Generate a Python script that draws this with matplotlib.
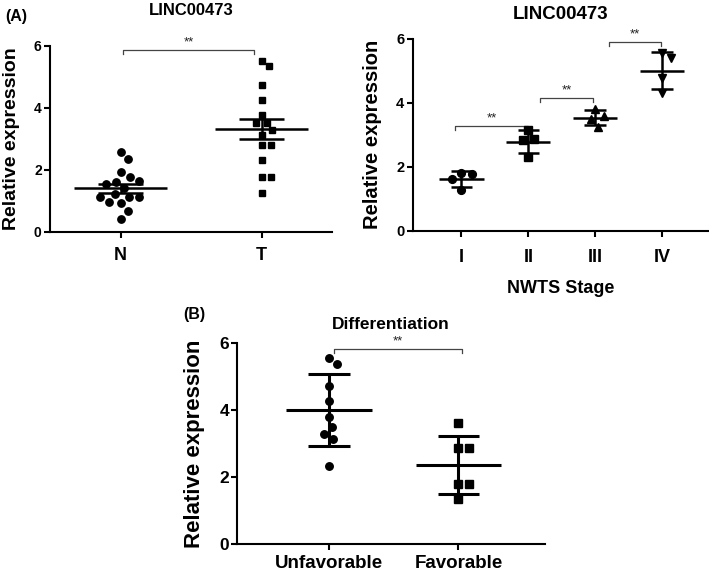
import numpy as np
import matplotlib
matplotlib.use("Agg")
import matplotlib.pyplot as plt

plt.rcParams['font.family'] = ['Liberation Sans', 'DejaVu Sans']
plt.rcParams['font.weight'] = 'bold'

# panel A left: tumour vs normal
nt_labels = ["N", "T"]
n_vals = [2.58, 2.34, 1.91, 1.78, 1.61, 1.54, 1.65, 1.40, 1.22, 1.11, 0.97, 0.92, 1.11, 1.13, 0.68, 0.40]
t_vals = [5.52, 5.35, 4.73, 4.25, 3.77, 3.52, 3.52, 3.28, 3.12, 2.80, 2.80, 2.31, 1.76, 1.76, 1.26]

# panel A right: NWTS stage
stage_labels = ["I", "II", "III", "IV"]
stage_vals = [
    [1.81, 1.79, 1.62, 1.28],
    [3.15, 2.86, 2.84, 2.32],
    [3.80, 3.59, 3.49, 3.25],
    [5.56, 5.39, 4.76, 4.30],
]

# panel B: differentiation
diff_labels = ["Unfavorable", "Favorable"]
unfav_vals = [5.57, 5.37, 4.73, 4.28, 3.79, 3.49, 3.29, 3.14, 2.33]
fav_vals = [3.61, 2.86, 2.86, 1.79, 1.79, 1.34]

W, H = 709, 573
fig = plt.figure(figsize=(W / 100, H / 100), dpi=100)


def px_axes(l, r, b, t):
    return fig.add_axes([l / W, 1 - b / H, (r - l) / W, (b - t) / H])


def style(ax, xlim, ytick_size, xpad):
    ax.set_xlim(*xlim)
    ax.set_ylim(0, 6)
    ax.set_yticks([0, 2, 4, 6])
    for s in ["top", "right"]:
        ax.spines[s].set_visible(False)
    for s in ["left", "bottom"]:
        ax.spines[s].set_linewidth(1.5)
    ax.tick_params(axis="both", direction="out", length=4, width=1.5)
    ax.tick_params(axis="y", labelsize=ytick_size, pad=2)
    ax.tick_params(axis="x", pad=xpad)


def swarm(ax, x0, vals, diam_px, spacing=1.4):
    # simple beeswarm in pixel space, returns x positions in data units
    trans = ax.transData
    ypx = [trans.transform((0, v))[1] for v in vals]
    xscale = trans.transform((1, 0))[0] - trans.transform((0, 0))[0]
    d = diam_px * spacing
    placed = []
    for y in ypx:
        cands = [0.0]
        for (px, py) in placed:
            dy = abs(py - y)
            if dy < d:
                dx = np.sqrt(d * d - dy * dy)
                cands += [px + dx, px - dx]
        cands.sort(key=abs)
        for c in cands:
            if all((c - px) ** 2 + (y - py) ** 2 >= d * d - 1e-6 for px, py in placed):
                placed.append((c, y))
                break
    return [x0 + p[0] / xscale for p in placed]


def group(ax, x0, vals, marker, ms, err="sd", lw=2.0):
    vals = np.array(vals)
    xs = swarm(ax, x0, vals, ms / 0.72)
    ax.plot(xs, vals, linestyle="none", marker=marker, ms=ms, color="black", zorder=3)
    m = vals.mean()
    e = vals.std(ddof=1)
    if err == "sem":
        e = e / np.sqrt(len(vals))
    ax.hlines(m, x0 - 0.33, x0 + 0.33, color="black", lw=lw, zorder=4)
    ax.hlines([m - e, m + e], x0 - 0.16, x0 + 0.16, color="black", lw=lw, zorder=4)
    ax.vlines(x0, m - e, m + e, color="black", lw=lw, zorder=4)


def bracket(ax, x1, x2, y):
    ax.plot([x1, x1, x2, x2], [y - 0.12, y, y, y - 0.12], color="#444444", lw=0.9, clip_on=False)
    ax.text((x1 + x2) / 2, y + 0.06, "**", ha="center", va="bottom", fontsize=9.5,
            fontweight="normal", color="#222222", clip_on=False)


# ---- A left
ax1 = px_axes(50, 332, 231.7, 45.7)
style(ax1, (-0.5, 1.5), 10, 7)
ax1.set_xticks([0, 1])
ax1.set_xticklabels(nt_labels, fontsize=13)
group(ax1, 0, n_vals, "o", 5.3, err="sem", lw=1.8)
group(ax1, 1, t_vals, "s", 4.8, err="sem", lw=1.8)
bracket(ax1, 0.02, 0.95, 5.86)
ax1.set_title("LINC00473", fontsize=12, fontweight="bold", pad=22)
ax1.set_ylabel("Relative expression", fontsize=14, fontweight="bold", labelpad=10)

# ---- A right
ax2 = px_axes(412.7, 708, 231, 38.7)
style(ax2, (-0.73, 3.69), 10.5, 9)
ax2.set_xticks(range(4))
ax2.set_xticklabels(stage_labels, fontsize=13)
for i, (vals, mk) in enumerate(zip(stage_vals, ["o", "s", "^", "v"])):
    group(ax2, i, vals, mk, 5.6, err="sd", lw=1.8)
bracket(ax2, -0.1, 1.0, 3.28)
bracket(ax2, 1.17, 1.97, 4.14)
bracket(ax2, 2.21, 2.98, 5.89)
ax2.set_title("LINC00473", fontsize=13.5, fontweight="bold", pad=14)
ax2.set_ylabel("Relative expression", fontsize=14.5, fontweight="bold", labelpad=10)
ax2.set_xlabel("NWTS Stage", fontsize=13, fontweight="bold", labelpad=10)

# ---- B
ax3 = px_axes(237.3, 545, 544, 343.3)
style(ax3, (-0.71, 1.67), 12.5, 4)
ax3.set_xticks([0, 1])
ax3.set_xticklabels(diff_labels, fontsize=13.5)
group(ax3, 0, unfav_vals, "o", 5.4, err="sd", lw=2.2)
group(ax3, 1, fav_vals, "s", 5.6, err="sd", lw=2.2)
bracket(ax3, 0.04, 1.03, 5.82)
ax3.set_title("Differentiation", fontsize=12.5, fontweight="bold", pad=10)
ax3.set_ylabel("Relative expression", fontsize=16, fontweight="bold", labelpad=10)

fig.text(5 / W, 1 - 16 / H, "(A)", fontsize=11.5, fontweight="bold", va="center", ha="left")
fig.text(183 / W, 1 - 314 / H, "(B)", fontsize=11.5, fontweight="bold", va="center", ha="left")

fig.savefig("out.png", dpi=100)
